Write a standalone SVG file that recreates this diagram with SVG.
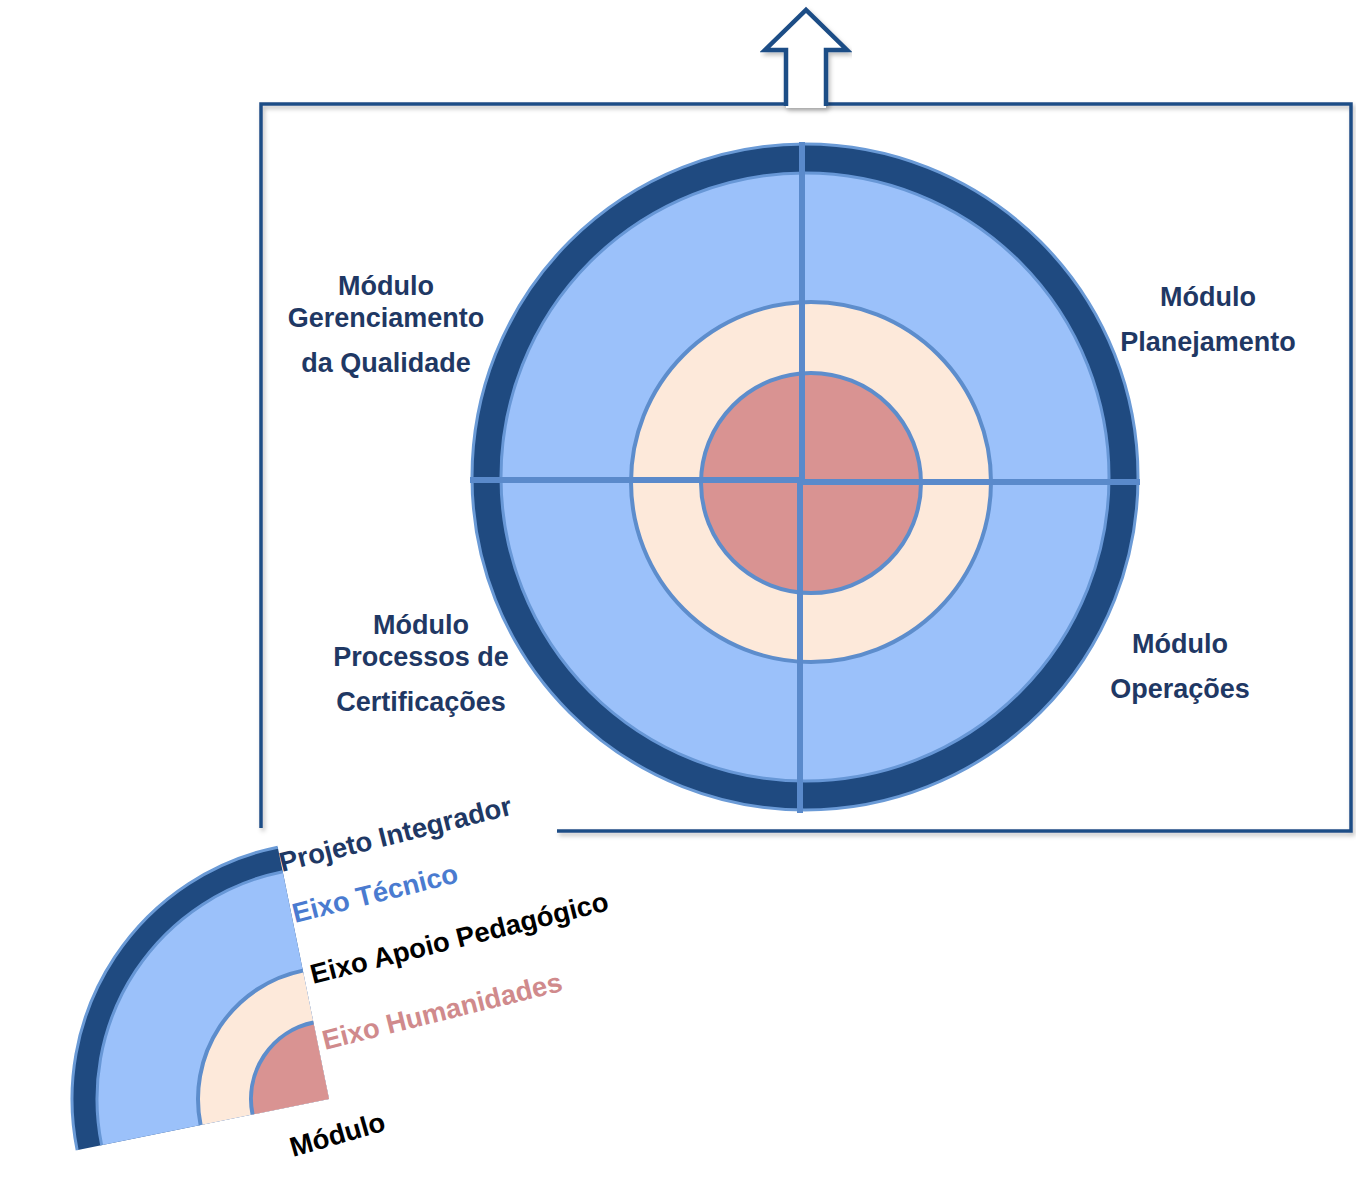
<svg xmlns="http://www.w3.org/2000/svg" width="1356" height="1196" viewBox="0 0 1356 1196">
  <style>
    .lbl { font-family: "Liberation Sans", Arial, sans-serif; font-weight: bold; font-size: 27px; fill: #1f3864; text-anchor: middle; }
    .leg { font-family: "Liberation Sans", Arial, sans-serif; font-weight: bold; font-size: 27.5px; }
    .dark { fill: #1f4a80; stroke: #6a9ad6; stroke-width: 3; }
    .blue { fill: #9bc1fa; stroke: #6797d6; stroke-width: 3; }
    .beige { fill: #fde9da; stroke: #5d8dcc; stroke-width: 4; }
    .red { fill: #d99392; stroke: #5d8dcc; stroke-width: 4; }
    .div { stroke: #5a8acb; stroke-width: 6; }
    .frameline { fill: none; stroke: #1f4e86; stroke-width: 3.5; }
  </style>
  <defs>
    <filter id="shadow" x="-5%" y="-5%" width="110%" height="115%">
      <feDropShadow dx="2" dy="3" stdDeviation="2" flood-color="#000" flood-opacity="0.25"/>
    </filter>
    <clipPath id="quarter">
      <rect x="-270" y="-270" width="270" height="270"/>
    </clipPath>
  </defs>
  <rect width="1356" height="1196" fill="#ffffff"/>

  <!-- frame -->
  <g id="frame" filter="url(#shadow)">
    <path class="frameline" d="M261,828 L261,104 L1351,104 L1351,831 L557,831"/>
  </g>

  <!-- target circle -->
  <g id="target">
    <circle class="dark" cx="805" cy="477" r="333"/>
    <circle class="blue" cx="805" cy="477" r="304"/>
    <circle class="beige" cx="811" cy="482" r="180"/>
    <circle class="red" cx="811" cy="483" r="110"/>
    <line class="div" x1="802" y1="142" x2="802" y2="481"/>
    <line class="div" x1="800" y1="480" x2="800" y2="813"/>
    <line class="div" x1="470" y1="480" x2="802" y2="480"/>
    <line class="div" x1="800" y1="482" x2="1140" y2="482"/>
  </g>

  <!-- module labels -->
  <g id="label-gerenciamento">
    <text class="lbl" x="386" y="295">Módulo</text>
    <text class="lbl" x="386" y="327">Gerenciamento</text>
    <text class="lbl" x="386" y="372">da Qualidade</text>
  </g>
  <g id="label-planejamento">
    <text class="lbl" x="1208" y="306">Módulo</text>
    <text class="lbl" x="1208" y="351">Planejamento</text>
  </g>
  <g id="label-processos">
    <text class="lbl" x="421" y="634">Módulo</text>
    <text class="lbl" x="421" y="666">Processos de</text>
    <text class="lbl" x="421" y="711">Certificações</text>
  </g>
  <g id="label-operacoes">
    <text class="lbl" x="1180" y="653">Módulo</text>
    <text class="lbl" x="1180" y="698">Operações</text>
  </g>

  <!-- legend -->
  <g id="legend">
    <g transform="translate(329,1099) rotate(-11.5)">
      <g clip-path="url(#quarter)">
        <circle class="dark" cx="0" cy="0" r="257"/>
        <circle class="blue" cx="0" cy="0" r="232"/>
        <circle class="beige" cx="0" cy="0" r="131"/>
        <circle class="red" cx="0" cy="0" r="78"/>
      </g>
    </g>
    <text class="leg" fill="#1f3864" transform="translate(282,872) rotate(-14)">Projeto Integrador</text>
    <text class="leg" fill="#4a7bd0" transform="translate(295,923) rotate(-14)">Eixo Técnico</text>
    <text class="leg" fill="#000000" transform="translate(313,984) rotate(-14)">Eixo Apoio Pedagógico</text>
    <text class="leg" fill="#d08a8c" transform="translate(325,1050) rotate(-14)">Eixo Humanidades</text>
    <text class="leg" fill="#000000" transform="translate(293,1157) rotate(-16)">Módulo</text>
  </g>

  <!-- connectors: block arrow -->
  <g id="connectors">
    <g filter="url(#shadow)">
      <path d="M786,108 L786,50 L765,50 L806,10 L847,50 L826,50 L826,108 Z" fill="#ffffff"/>
      <path d="M786,106 L786,50 L765,50 L806,10 L847,50 L826,50 L826,106" fill="none" stroke="#1f4e86" stroke-width="4.5" stroke-linejoin="miter"/>
    </g>
  </g>
</svg>
